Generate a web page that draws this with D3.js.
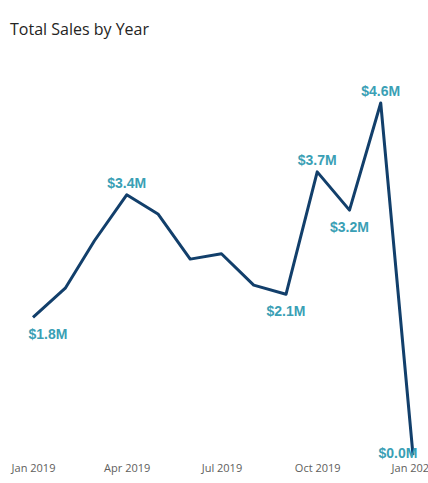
<!DOCTYPE html>
<html><head><meta charset="utf-8">
<script src="https://cdn.jsdelivr.net/npm/d3@7"></script>
<style>body{margin:0;background:#fff;overflow:hidden}</style>
</head><body><svg id="chart"></svg>
<script>
const months = ["2019-01","2019-02","2019-03","2019-04","2019-05","2019-06","2019-07","2019-08","2019-09","2019-10","2019-11","2019-12","2020-01"];
const sales = [1.8, 2.18, 2.8, 3.4, 3.15, 2.56, 2.63, 2.22, 2.1, 3.7, 3.2, 4.6, 0.0];
// which points carry a label, and where
const labelPos = ["below","","","above","","","","","below","above","below","above","left"];
const tickMonths = ["2019-01","2019-04","2019-07","2019-10","2020-01"];

const width = 428, height = 483;
const svg = d3.select("#chart").attr("width", width).attr("height", height);
const parse = d3.timeParse("%Y-%m");
const data = months.map((m, i) => ({date: parse(m), value: sales[i], pos: labelPos[i], i: i}));

svg.append("text").attr("x", 10).attr("y", 35)
  .attr("font-family", "'Open Sans', sans-serif").attr("font-size", 16)
  .attr("fill", "#252423").text("Total Sales by Year");

const x = d3.scaleTime().domain([data[0].date, data[12].date]).range([33, 413]);
const y = d3.scaleLinear().domain([0, 4.6]).range([455, 103]);

svg.append("path").datum(data)
  .attr("fill", "none").attr("stroke", "#123f6b").attr("stroke-width", 3)
  .attr("stroke-linejoin", "round")
  .attr("d", d3.line().x(d => x(d.date)).y(d => y(d.value)));

const fmt = v => "$" + v.toFixed(1) + "M";
svg.selectAll(".lbl").data(data.filter(d => d.pos)).join("text")
  .attr("x", d => d.pos === "left" ? x(d.date) - 15 : x(d.date) + (d.i === 0 ? 15 : 0))
  .attr("y", d => d.pos === "above" ? y(d.value) - 7 : d.pos === "below" ? y(d.value) + 22 : y(d.value) + 3)
  .attr("text-anchor", "middle")
  .attr("font-family", "'Liberation Sans', Arial, sans-serif").attr("font-weight", "bold")
  .attr("font-size", 14).attr("fill", "#3a9fb5")
  .text(d => fmt(d.value));

const axis = svg.append("g").attr("transform", "translate(0,458)")
  .call(d3.axisBottom(x).tickValues(tickMonths.map(parse)).tickFormat(d3.timeFormat("%b %Y")).tickSize(0).tickPadding(6));
axis.select(".domain").remove();
axis.selectAll("text").attr("font-family", "'Open Sans', sans-serif").attr("font-size", 11).attr("fill", "#605e5c");
</script></body></html>
